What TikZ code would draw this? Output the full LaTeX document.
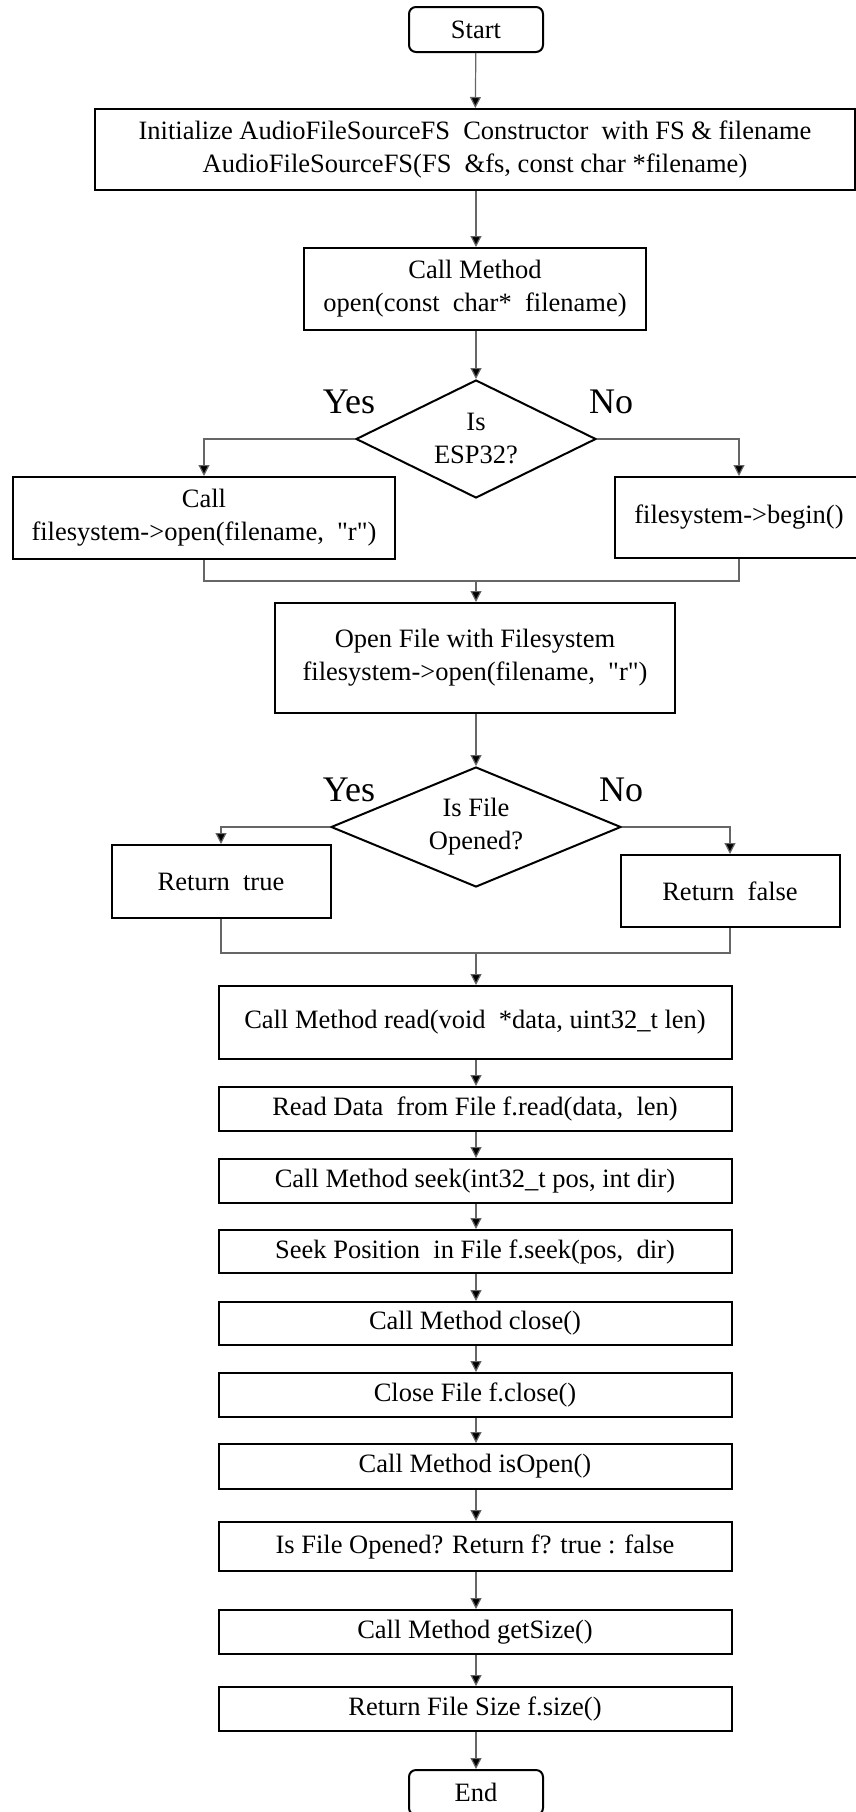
\documentclass[tikz,border=0pt]{standalone}
\usepackage{fontspec}
\setmainfont{Liberation Serif}[Ligatures=TeXOff]
\usetikzlibrary{arrows.meta,shapes.geometric}
\begin{document}
\begin{tikzpicture}[x=1pt,y=-1pt,
  every node/.style={font=\fontsize{26.5}{33}\selectfont, align=center, inner sep=0pt},
  proc/.style={draw=black, line width=2pt, rectangle, minimum height=44pt},
  term/.style={proc, rounded corners=7pt, minimum width=134pt, minimum height=45pt},
  decision/.style={draw=black, line width=2pt, diamond, aspect=2},
  yn/.style={font=\fontsize{36}{40}\selectfont},
  link/.style={draw=black!60, line width=1.2pt},
  arr/.style={link, -{Triangle[width=11pt,length=11pt,fill=black]}}]
\useasboundingbox (0,0) rectangle (856,1812);
\clip (0,0) rectangle (856,1812);

% main column
\node[term] (start) at (476,29.5) {Start};
\node[proc, minimum width=760pt, minimum height=81pt] (init) at (475,149.5)
  {Initialize AudioFileSourceFS\ \ Constructor\ \ with FS \& filename\\
   AudioFileSourceFS(FS\ \ \&fs, const char *filename)};
\node[proc, minimum width=342pt, minimum height=82pt] (callopen) at (475,289)
  {Call Method\\ open(const\ \ char*\ \ filename)};

% first decision
\node[decision, minimum width=240pt, minimum height=118pt] (d1) at (476,439) {Is\\ESP32?};
\node[yn] (yes1) at (349,402) {Yes};
\node[yn] (no1) at (611,402) {No};
\node[proc, minimum width=382pt, minimum height=82pt] (lcall) at (204,518)
  {Call\\ filesystem->open(filename,\ \ "r")};
\node[proc, minimum width=248pt, minimum height=81pt] (rbegin) at (739,517.5)
  {filesystem->begin()};
\coordinate (j1) at (476,581);

\node[proc, minimum width=400pt, minimum height=110pt] (openf) at (475,658)
  {Open File with Filesystem\\ filesystem->open(filename,\ \ "r")};

% second decision
\node[decision, minimum width=290pt, minimum height=120pt] (d2) at (476,827) {Is File\\Opened?};
\node[yn] (yes2) at (349,790) {Yes};
\node[yn] (no2) at (621,790) {No};
\node[proc, minimum width=219pt, minimum height=73pt] (rtrue) at (221,881.5) {Return\ \ true};
\node[proc, minimum width=219pt, minimum height=72pt] (rfalse) at (730,891) {Return\ \ false};
\coordinate (j2) at (476,953);

% sequential method boxes
\node[proc, minimum width=513pt, minimum height=73pt] (read) at (475,1022.5)
  {Call Method read(void\ \ *data, uint32\_t len)};
\node[proc, minimum width=513pt] (readdata) at (475,1109)
  {Read Data\ \ from File f.read(data,\ \ len)};
\node[proc, minimum width=513pt] (seekcall) at (475,1181)
  {Call Method seek(int32\_t pos, int dir)};
\node[proc, minimum width=513pt, minimum height=43pt] (seekpos) at (475,1251.5)
  {Seek Position\ \ in File f.seek(pos,\ \ dir)};
\node[proc, minimum width=513pt, minimum height=43pt] (closecall) at (475,1323.5)
  {Call Method close()};
\node[proc, minimum width=513pt] (closefile) at (475,1395)
  {Close File f.close()};
\node[proc, minimum width=513pt, minimum height=45pt] (isopen) at (475,1466.5)
  {Call Method isOpen()};
\node[proc, minimum width=513pt, minimum height=49pt] (isfile) at (475,1546.5)
  {Is File Opened? Return f? true : false};
\node[proc, minimum width=513pt] (getsize) at (475,1632)
  {Call Method getSize()};
\node[proc, minimum width=513pt] (retsize) at (475,1709)
  {Return File Size f.size()};
\node[term] (end) at (476,1792.5) {End};

% connectors
\draw[arr] (start) -- (init);
\draw[arr] (init.south -| start) -- (callopen.north -| start);
\draw[arr] (callopen.south -| start) -- (d1);
\draw[arr] (d1.west) -| (lcall.north);
\draw[arr] (d1.east) -| (rbegin.north);
\draw[link] (lcall.south) |- (j1) -| (rbegin.south);
\draw[arr] (j1) -- (openf.north -| j1);
\draw[arr] (openf.south -| j1) -- (d2);
\draw[arr] (d2.west) -| (rtrue.north);
\draw[arr] (d2.east) -| (rfalse.north);
\draw[link] (rtrue.south) |- (j2) -| (rfalse.south);
\draw[arr] (j2) -- (read.north -| j2);
\draw[arr] (read.south -| j2) -- (readdata.north -| j2);
\draw[arr] (readdata.south -| j2) -- (seekcall.north -| j2);
\draw[arr] (seekcall.south -| j2) -- (seekpos.north -| j2);
\draw[arr] (seekpos.south -| j2) -- (closecall.north -| j2);
\draw[arr] (closecall.south -| j2) -- (closefile.north -| j2);
\draw[arr] (closefile.south -| j2) -- (isopen.north -| j2);
\draw[arr] (isopen.south -| j2) -- (isfile.north -| j2);
\draw[arr] (isfile.south -| j2) -- (getsize.north -| j2);
\draw[arr] (getsize.south -| j2) -- (retsize.north -| j2);
\draw[arr] (retsize.south -| j2) -- (end);
\end{tikzpicture}
\end{document}
